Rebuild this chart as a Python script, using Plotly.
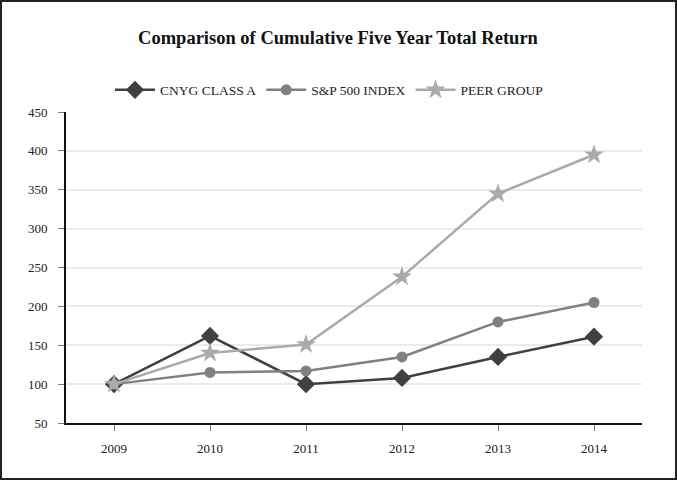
import plotly.graph_objects as go

years = [2009, 2010, 2011, 2012, 2013, 2014]
cnyg = [100, 162, 100, 108, 135, 161]
sp500 = [100, 115, 117, 135, 180, 205]
peer = [100, 140, 151, 238, 345, 395]
y_ticks = [50, 100, 150, 200, 250, 300, 350, 400, 450]

W, H = 677, 480
L, R, T, B = 66, 35, 112, 57
pw, ph = W - L - R, H - T - B

font_family = "Liberation Serif, Times New Roman, serif"
tfont = dict(family=font_family, size=13, color="#222222")

fig = go.Figure()
fig.add_trace(go.Scatter(x=years, y=cnyg, name="CNYG CLASS A", mode="lines+markers",
                         line=dict(color="#404040", width=2.5),
                         marker=dict(symbol="diamond", size=14, color="#404040")))
fig.add_trace(go.Scatter(x=years, y=sp500, name="S&P 500 INDEX", mode="lines+markers",
                         line=dict(color="#808080", width=2.5),
                         marker=dict(symbol="circle", size=11, color="#808080")))
fig.add_trace(go.Scatter(x=years, y=peer, name="PEER GROUP", mode="lines+markers",
                         line=dict(color="#aaaaaa", width=2.5),
                         marker=dict(symbol="star", size=15, color="#aaaaaa")))

# outer border of the picture, in paper coordinates
x0 = (1 - L) / pw
x1 = (W - 1 - L) / pw
y0 = -(B - 1) / ph
y1 = (H - B - 1) / ph
fig.add_shape(type="rect", xref="paper", yref="paper", x0=x0, x1=x1, y0=y0, y1=y1,
              line=dict(color="#222222", width=2), layer="above")

fig.update_layout(
    template="none",
    width=W, height=H,
    margin=dict(l=L, r=R, t=T, b=B, pad=0),
    paper_bgcolor="white", plot_bgcolor="white",
    font=tfont,
    title=dict(text="<b>Comparison of Cumulative Five Year Total Return</b>",
               x=338 / W, xanchor="center", y=1 - 38 / H, yanchor="middle",
               font=dict(family=font_family, size=18.5, color="#111111")),
    legend=dict(orientation="h", x=(329 - L) / pw, xanchor="center",
                y=(H - B - 90) / ph, yanchor="middle",
                font=dict(family=font_family, size=13.5, color="#222222"),
                itemwidth=40, tracegroupgap=0, bgcolor="rgba(0,0,0,0)"),
    showlegend=True,
)
fig.update_xaxes(range=[2008.5, 2014.5], tickvals=years, ticktext=[str(y) for y in years],
                 showgrid=False, showline=True, linecolor="#111111", linewidth=2,
                 ticks="outside", ticklen=6, tickcolor="#777777", tickwidth=1,
                 ticklabelstandoff=6,
                 tickfont=tfont, zeroline=False, fixedrange=True)
fig.update_yaxes(range=[50, 450], tickvals=y_ticks,
                 showgrid=True, gridcolor="#ebebeb", gridwidth=2,
                 showline=True, linecolor="#111111", linewidth=2,
                 ticks="outside", ticklen=6, tickcolor="#777777", tickwidth=1,
                 ticklabelstandoff=8,
                 tickfont=tfont, zeroline=False, fixedrange=True)

fig.write_html("out.html", config={"displayModeBar": False},
               post_script="document.body.style.margin='0';document.body.style.overflow='hidden';")
